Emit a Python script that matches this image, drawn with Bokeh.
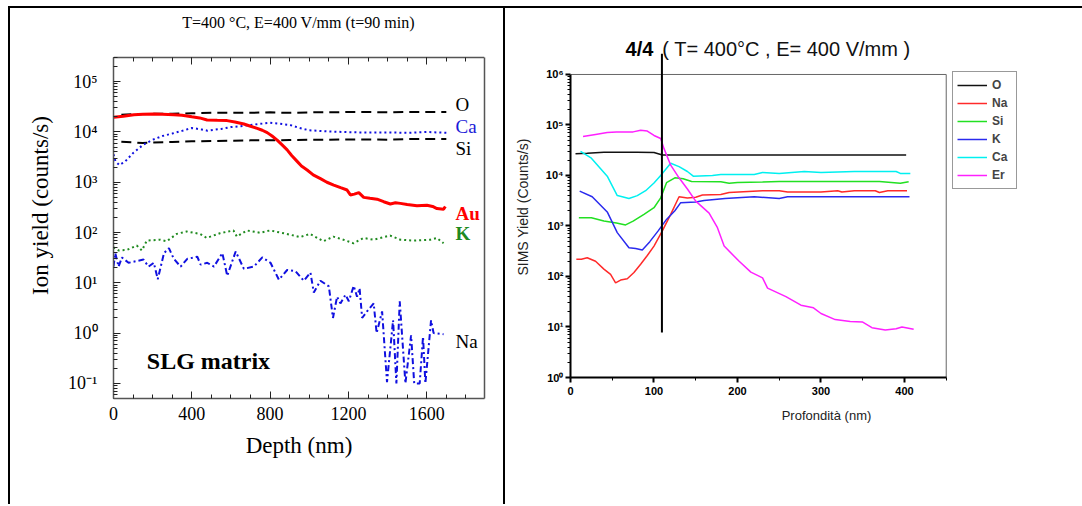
from bokeh.plotting import figure
from bokeh.models import (Range1d, FixedTicker, LinearAxis, LogAxis, Label,
                          Legend, LegendItem, Div, CustomJSTickFormatter)
from bokeh.layouts import row, column
from bokeh.embed import file_html
from bokeh.resources import INLINE

# ---------------- LEFT PANEL DATA (SLG matrix) ----------------
left_title = "T=400 °C, E=400 V/mm (t=90 min)"
left_xticks = [0, 400, 800, 1200, 1600]
left_decades = [-1, 0, 1, 2, 3, 4, 5]
left_xmax = 1895
left_ymin = 10 ** -1.3
left_ymax = 10 ** 5.48

o_x = [40, 100, 200, 300, 400, 500, 600, 700, 800, 900, 1000, 1100, 1200, 1300, 1400, 1500, 1600, 1700]
o_y = [2.2e4, 2.25e4, 2.3e4, 2.3e4, 2.35e4, 2.4e4, 2.4e4, 2.4e4, 2.45e4, 2.4e4, 2.45e4, 2.45e4, 2.5e4, 2.5e4, 2.45e4, 2.5e4, 2.5e4, 2.5e4]

si_x = [40, 100, 150, 200, 300, 400, 500, 600, 700, 800, 900, 1000, 1100, 1200, 1300, 1400, 1500, 1600, 1700]
si_y = [6.4e3, 6.2e3, 6.0e3, 6.2e3, 6.3e3, 6.5e3, 6.6e3, 6.7e3, 6.8e3, 6.8e3, 6.9e3, 7.0e3, 7.0e3, 7.1e3, 7.1e3, 7.0e3, 7.2e3, 7.2e3, 7.2e3]

ca_x = [0, 10, 30, 60, 100, 150, 200, 250, 300, 350, 400, 450, 480, 550, 600, 650, 700, 750, 800,
        850, 900, 950, 1000, 1100, 1200, 1300, 1400, 1500, 1600, 1700]
ca_y = [3.6e3, 2.6e3, 2.2e3, 2.6e3, 3.8e3, 5.5e3, 7.0e3, 8.3e3, 9.3e3, 1.05e4, 1.2e4, 1.12e4, 1.06e4,
        1.15e4, 1.25e4, 1.3e4, 1.38e4, 1.45e4, 1.52e4, 1.45e4, 1.38e4, 1.2e4, 1.08e4, 1.02e4, 9.9e3,
        9.7e3, 9.8e3, 9.6e3, 1.0e4, 9.6e3]

au_x = [0, 50, 104, 150, 206, 250, 308, 350, 400, 440, 478, 530, 580, 620, 666, 700, 734, 760, 785,
        810, 836, 860, 887, 910, 938, 960, 989, 1020, 1057, 1090, 1125, 1160, 1193, 1210, 1230, 1253,
        1278, 1310, 1346, 1380, 1414, 1440, 1465, 1500, 1550, 1601, 1630, 1652, 1686, 1695]
au_y = [1.96e4, 2.05e4, 2.2e4, 2.25e4, 2.28e4, 2.25e4, 2.2e4, 2.15e4, 2.0e4, 1.9e4, 1.73e4, 1.7e4,
        1.68e4, 1.58e4, 1.44e4, 1.3e4, 1.18e4, 1.08e4, 9.7e3, 8.3e3, 6.9e3, 5.6e3, 4.4e3, 3.4e3, 2.6e3,
        2.1e3, 1.75e3, 1.4e3, 1.18e3, 1.0e3, 8.8e2, 7.8e2, 7.0e2, 5.6e2, 5.8e2, 6.2e2, 5.0e2, 4.8e2,
        4.6e2, 4.1e2, 3.7e2, 3.9e2, 3.8e2, 3.6e2, 3.4e2, 3.5e2, 3.3e2, 3.0e2, 2.9e2, 3.3e2]

k_x = [0, 26, 68, 119, 145, 170, 238, 272, 323, 374, 442, 476, 544, 613, 630, 681, 749, 800, 885,
       953, 1004, 1072, 1123, 1174, 1226, 1277, 1328, 1413, 1465, 1532, 1618, 1652, 1686]
k_y = [51, 44, 45, 55, 44, 69, 72, 67, 94, 105, 94, 78, 97, 110, 83, 110, 99, 110, 94,
       81, 94, 67, 83, 72, 61, 78, 72, 87, 72, 69, 72, 78, 61]

na_x = [0, 9, 26, 43, 77, 153, 179, 206, 226, 258, 283, 308, 343, 377, 428, 445, 479, 513, 556,
        581, 624, 666, 717, 760, 802, 845, 887, 930, 972, 1006, 1023, 1057, 1100, 1121, 1142, 1159,
        1185, 1202, 1227, 1244, 1257, 1270, 1295, 1329, 1344, 1372, 1397, 1428, 1445, 1462, 1491,
        1520, 1536, 1564, 1581, 1593, 1622, 1635, 1686]
na_y = [21, 39, 21, 32, 25, 29, 21, 25, 11.8, 39, 49, 30, 21, 30, 33, 23, 25, 21, 39,
        13.8, 42, 19, 21, 32, 25, 11.5, 18, 17, 11, 16, 6.4, 11, 8.5, 2.0, 5.3, 3.9,
        5.8, 4.3, 8.7, 5.3, 7.8, 2.0, 2.7, 3.9, 1.0, 2.7, 0.106, 1.8, 0.1, 4.3, 0.1,
        0.9, 0.1, 0.1, 0.85, 0.1, 1.8, 1.0, 0.95]

# ---------------- RIGHT PANEL DATA (4/4) ----------------
right_title_bold = "4/4"
right_title_rest = "( T= 400°C , E= 400 V/mm )"
right_xticks = [0, 100, 200, 300, 400]
right_xminor = [50, 150, 250, 350, 450]
right_decades = [0, 1, 2, 3, 4, 5, 6]
right_xmax = 450
right_ymax = 1e6
marker_depth = 109.5
marker_ymin = 7.8
marker_ymax = 10 ** 6.41

r_o_x = [6, 20, 40, 60, 80, 100, 110, 150, 200, 250, 300, 350, 402]
r_o_y = [2.7e4, 2.75e4, 2.9e4, 2.9e4, 2.9e4, 2.85e4, 2.55e4, 2.55e4, 2.55e4, 2.55e4, 2.55e4, 2.55e4, 2.55e4]

r_na_x = [7, 13, 20, 30, 40, 48, 54, 60, 68, 76, 84, 92, 100, 110, 120, 130, 140, 150, 158, 180, 190,
          230, 250, 260, 300, 320, 325, 340, 365, 370, 380, 403]
r_na_y = [220, 220, 235, 200, 140, 110, 75, 85, 90, 120, 175, 260, 400, 800, 1700, 3.8e3, 3.6e3,
          3.7e3, 4.1e3, 4.2e3, 4.6e3, 5.0e3, 5.0e3, 4.7e3, 4.7e3, 5.0e3, 4.7e3, 5.0e3, 5.0e3, 4.6e3,
          5.0e3, 5.0e3]

r_si_x = [10, 25, 40, 55, 66, 75, 88, 100, 108, 115, 125, 135, 145, 180, 190, 200, 230, 250, 370, 395, 405]
r_si_y = [1.46e3, 1.45e3, 1.25e3, 1.15e3, 1.05e3, 1.25e3, 1.7e3, 2.3e3, 3.6e3, 7.2e3, 9.0e3, 8.6e3,
          7.6e3, 7.5e3, 7.0e3, 7.3e3, 7.4e3, 7.6e3, 7.6e3, 7.0e3, 7.5e3]

r_k_x = [11, 26, 44, 56, 70, 78, 86, 95, 105, 115, 125, 132, 150, 160, 185, 220, 250, 260, 406]
r_k_y = [4.9e3, 3.8e3, 1.9e3, 740, 370, 360, 335, 490, 800, 1350, 2.0e3, 2.9e3, 3.0e3, 3.2e3,
         3.5e3, 3.8e3, 3.5e3, 3.8e3, 3.8e3]

r_ca_x = [12, 25, 44, 56, 62, 70, 80, 90, 100, 108, 120, 130, 140, 147, 170, 180, 220, 230, 250,
          280, 300, 340, 390, 395, 407]
r_ca_y = [3.0e4, 2.2e4, 9.7e3, 4.0e3, 3.8e3, 3.5e3, 4.0e3, 5.0e3, 7.1e3, 1.0e4, 1.75e4, 1.5e4,
          1.2e4, 9.7e3, 1.0e4, 1.05e4, 1.05e4, 1.15e4, 1.1e4, 1.2e4, 1.15e4, 1.2e4, 1.2e4, 1.1e4, 1.1e4]

r_er_x = [15, 30, 44, 55, 75, 84, 92, 100, 108, 112, 120, 130, 140, 150, 166, 176, 184, 202, 216,
          230, 236, 258, 276, 291, 300, 317, 335, 350, 361, 377, 390, 397, 411]
r_er_y = [5.9e4, 6.5e4, 7.1e4, 7.3e4, 7.3e4, 7.9e4, 7.6e4, 6.2e4, 5.4e4, 3.4e4, 1.6e4, 9.0e3, 5.4e3,
          3.1e3, 1.8e3, 925, 400, 200, 122, 94, 59, 40, 27, 24, 18.5, 14, 12.9, 12.5, 9.7, 8.7, 9.2,
          10, 9.0]

# ---------------- helpers ----------------
SUP_CODE = """
const sup = {"-":"\u207b","0":"\u2070","1":"\u00b9","2":"\u00b2","3":"\u00b3","4":"\u2074",
             "5":"\u2075","6":"\u2076","7":"\u2077","8":"\u2078","9":"\u2079"};
const e = Math.round(Math.log10(tick));
return "10" + String(e).split("").map(c => sup[c]).join("");
"""
BLANK = "return '';"


def log_ticker(decades, lo, hi):
    majors = [10.0 ** d for d in decades]
    ds = list(range(decades[0] - 1, decades[-1] + 1))
    minors = [k * 10.0 ** d for d in ds for k in range(2, 10)]
    minors = [m for m in minors if lo <= m <= hi]
    return FixedTicker(ticks=majors, minor_ticks=minors)


SERIF = "Liberation Serif"
SANS = "Liberation Sans"

# ---------------- LEFT FIGURE ----------------
# frame extends above the drawn box so that the title fits inside it
L = figure(width=493, height=496, x_range=Range1d(0, left_xmax),
           y_range=Range1d(left_ymin, 10 ** 6.375), y_axis_type="log", title=None,
           output_backend="svg", toolbar_location=None,
           min_border_left=103, min_border_right=19, min_border_top=4, min_border_bottom=106)
L.grid.visible = False
L.outline_line_color = None
L.background_fill_color = "white"
L.border_fill_color = "white"

xa = L.xaxis[0]
xa.ticker = FixedTicker(ticks=left_xticks, minor_ticks=list(range(0, 1900, 100)))
ya = L.yaxis[0]
ya.ticker = log_ticker(left_decades, left_ymin, left_ymax)
ya.formatter = CustomJSTickFormatter(code=SUP_CODE)
ya.bounds = (left_ymin, left_ymax)
for ax in (xa, ya):
    ax.axis_line_color = "#555555"
    ax.axis_line_width = 1.5
    ax.major_tick_in = 7
    ax.major_tick_out = 0
    ax.minor_tick_in = 4
    ax.minor_tick_out = 0
    ax.major_tick_line_color = "#222222"
    ax.minor_tick_line_color = "#222222"
    ax.major_label_text_font = SERIF
    ax.major_label_text_font_size = "18px"
    ax.major_label_text_color = "black"
    ax.axis_label_text_font = SERIF
    ax.axis_label_text_font_style = "normal"
    ax.axis_label_text_color = "black"
xa.axis_label = "Depth (nm)"
xa.axis_label_text_font_size = "23px"
xa.major_label_standoff = 8
xa.axis_label_standoff = 10
ya.axis_label = "Ion yield (counts/s)"
ya.axis_label_text_font_size = "23px"
ya.major_label_standoff = 16
ya.axis_label_standoff = 12

# top edge of the box (with inward ticks) and right edge
top_ax = LinearAxis(ticker=FixedTicker(ticks=left_xticks, minor_ticks=list(range(0, 1900, 100))),
                    formatter=CustomJSTickFormatter(code=BLANK), fixed_location=left_ymax)
top_ax.axis_line_color = "#555555"
top_ax.axis_line_width = 1.5
top_ax.major_tick_in = 7
top_ax.major_tick_out = 0
top_ax.minor_tick_in = 4
top_ax.minor_tick_out = 0
top_ax.major_tick_line_color = "#222222"
top_ax.minor_tick_line_color = "#222222"
top_ax.major_label_standoff = 0
top_ax.major_label_text_font_size = "1px"
L.add_layout(top_ax, "above")

right_edge = LogAxis(ticker=FixedTicker(ticks=[]), formatter=CustomJSTickFormatter(code=BLANK))
right_edge.bounds = (left_ymin, left_ymax)
right_edge.axis_line_color = "#555555"
right_edge.axis_line_width = 1.5
right_edge.major_tick_in = 0
right_edge.major_tick_out = 0
right_edge.minor_tick_in = 0
right_edge.minor_tick_out = 0
right_edge.major_label_standoff = 0
right_edge.major_label_text_font_size = "1px"
L.add_layout(right_edge, "right")

L.line(o_x, o_y, color="black", line_width=2, line_dash="10 6")
L.line(si_x, si_y, color="black", line_width=2, line_dash="10 6")
L.line(ca_x, ca_y, color="#1010e0", line_width=2, line_dash="2 3")
L.line(k_x, k_y, color="#1f8a1f", line_width=2, line_dash="2 3")
L.line(na_x, na_y, color="#1010e0", line_width=2, line_dash="6 3 2 3")
L.line(au_x, au_y, color="#ff0000", line_width=3)

L.add_layout(Label(x=945, y=10 ** 6.17, text=left_title, text_align="center",
                   text_baseline="middle", text_font=SERIF, text_font_size="16px",
                   text_color="black"))
L.add_layout(Label(x=485, y=10 ** -0.56, text="SLG matrix", text_align="center",
                   text_baseline="middle", text_font=SERIF, text_font_size="24px",
                   text_font_style="bold", text_color="black"))
series_labels = [("O", 10 ** 4.54, "black", "normal"),
                 ("Ca", 10 ** 4.10, "#1a1ad8", "normal"),
                 ("Si", 10 ** 3.68, "black", "normal"),
                 ("Au", 10 ** 2.38, "#ff0000", "bold"),
                 ("K", 10 ** 1.98, "#1f8a1f", "bold"),
                 ("Na", 10 ** -0.16, "black", "normal")]
for txt, yy, col, sty in series_labels:
    L.add_layout(Label(x=1747, y=yy, text=txt, text_align="left", text_baseline="middle",
                       text_font=SERIF, text_font_size="19px", text_font_style=sty,
                       text_color=col))

# ---------------- RIGHT FIGURE ----------------
# frame extends above/right of the drawn box so that title and legend fit inside it
R = figure(width=577, height=496, x_range=Range1d(0, 613.2),
           y_range=Range1d(1, 10 ** 6.752), y_axis_type="log", title=None,
           output_backend="svg", toolbar_location=None,
           min_border_left=65, min_border_right=0, min_border_top=28, min_border_bottom=127)
R.grid.visible = False
R.outline_line_color = None
R.background_fill_color = "white"
R.border_fill_color = "white"

rx = R.xaxis[0]
rx.ticker = FixedTicker(ticks=right_xticks, minor_ticks=right_xminor)
rx.bounds = (0, right_xmax)
ry = R.yaxis[0]
ry.ticker = log_ticker(right_decades, 1, right_ymax)
ry.formatter = CustomJSTickFormatter(code=SUP_CODE)
ry.bounds = (1, right_ymax)
for ax in (rx, ry):
    ax.axis_line_color = "black"
    ax.axis_line_width = 2
    ax.major_tick_in = 0
    ax.major_tick_out = 5
    ax.minor_tick_in = 0
    ax.minor_tick_out = 3
    ax.major_tick_line_width = 2
    ax.major_tick_line_color = "black"
    ax.minor_tick_line_color = "black"
    ax.major_label_text_font = SANS
    ax.major_label_text_font_style = "bold"
    ax.major_label_text_font_size = "11px"
    ax.major_label_text_color = "black"
    ax.axis_label_text_font = SANS
    ax.axis_label_text_font_style = "normal"
    ax.axis_label_text_color = "#222222"
rx.axis_label = "Profondità (nm)"
rx.axis_label_text_font_size = "13px"
rx.major_label_standoff = 4
rx.axis_label_standoff = 10
ry.axis_label = "SIMS Yield (Counts/s)"
ry.axis_label_text_font_size = "14px"
ry.major_label_standoff = 2
ry.axis_label_standoff = 12

# top and right edges of the plot box
R.segment(x0=[0, right_xmax], y0=[right_ymax, 1], x1=[right_xmax, right_xmax],
          y1=[right_ymax, right_ymax], line_color="#666666", line_width=1)

r1 = R.line(r_o_x, r_o_y, color="#111111", line_width=1.5)
r2 = R.line(r_na_x, r_na_y, color="#ff2a2a", line_width=1.5)
r3 = R.line(r_si_x, r_si_y, color="#22e022", line_width=1.5)
r4 = R.line(r_k_x, r_k_y, color="#2a2aee", line_width=1.5)
r5 = R.line(r_ca_x, r_ca_y, color="#00f0f0", line_width=1.5)
r6 = R.line(r_er_x, r_er_y, color="#ff20ff", line_width=1.5)
R.segment(x0=[marker_depth], y0=[marker_ymin], x1=[marker_depth], y1=[marker_ymax],
          line_color="black", line_width=2)

legend = Legend(items=[LegendItem(label="O", renderers=[r1]),
                       LegendItem(label="Na", renderers=[r2]),
                       LegendItem(label="Si", renderers=[r3]),
                       LegendItem(label="K", renderers=[r4]),
                       LegendItem(label="Ca", renderers=[r5]),
                       LegendItem(label="Er", renderers=[r6])],
                location=(382, 188))
legend.margin = 0
legend.padding = 4
legend.spacing = 0
legend.glyph_width = 30
legend.glyph_height = 18
legend.label_height = 18
legend.label_standoff = 5
legend.label_text_font = SANS
legend.label_text_font_style = "bold"
legend.label_text_font_size = "12px"
legend.border_line_color = "#333333"
legend.border_line_width = 1.5
legend.background_fill_color = "white"
legend.background_fill_alpha = 1
R.add_layout(legend)

R.add_layout(Label(x=66, y=10 ** 6.5, text=right_title_bold, text_align="left",
                   text_baseline="middle", text_font=SANS, text_font_size="20px",
                   text_font_style="bold", text_color="black"))
R.add_layout(Label(x=110, y=10 ** 6.5, text=right_title_rest, text_align="left",
                   text_baseline="middle", text_font=SANS, text_font_size="20px",
                   text_color="#111111"))

# ---------------- table lines & layout ----------------
hline = Div(text="", width=1074, height=2, margin=0, styles={"background-color": "black"})
vline1 = Div(text="", width=2, height=496, margin=0, styles={"background-color": "black"})
vline2 = Div(text="", width=2, height=496, margin=0, styles={"background-color": "black"})
page = column(hline,
              row(vline1, column(L, spacing=0), vline2, column(R, spacing=0), spacing=0),
              spacing=0, margin=(6, 0, 0, 8))

open("out.html", "w").write(file_html(page, INLINE))
